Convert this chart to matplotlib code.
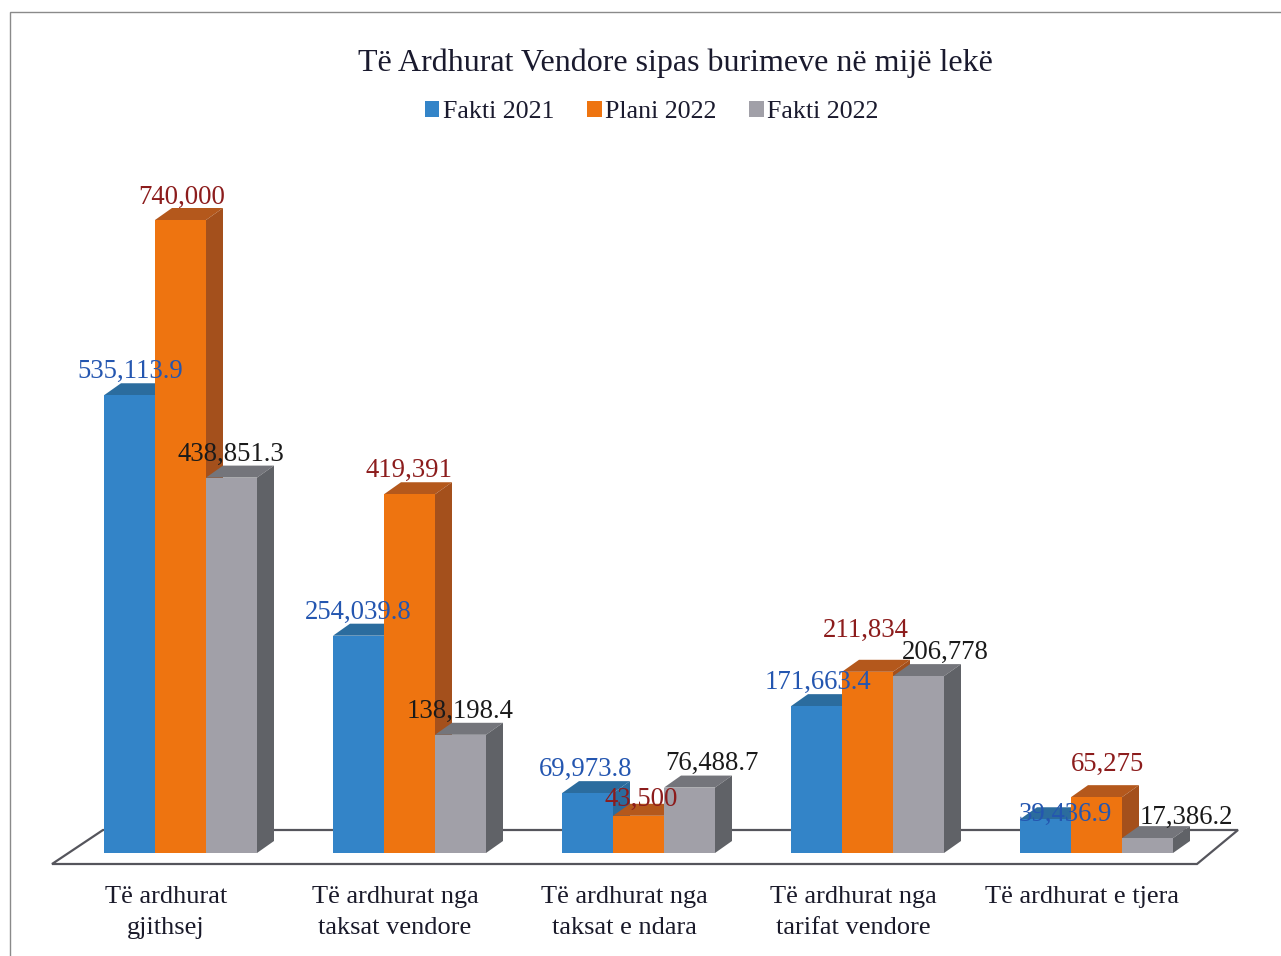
#!/usr/bin/env python3
import numpy as np
import matplotlib.pyplot as plt
from matplotlib.patches import Polygon, Rectangle

plt.rcParams['font.family'] = ['Liberation Serif', 'DejaVu Serif']

categories = [
    "Të ardhurat\ngjithsej",
    "Të ardhurat nga\ntaksat vendore",
    "Të ardhurat nga\ntaksat e ndara",
    "Të ardhurat nga\ntarifat vendore",
    "Të ardhurat e tjera",
]
series_names = ["Fakti 2021", "Plani 2022", "Fakti 2022"]
fakti_2021 = [535113.9, 254039.8, 69973.8, 171663.4, 39436.9]
plani_2022 = [740000, 419391, 43500, 211834, 65275]
fakti_2022 = [438851.3, 138198.4, 76488.7, 206778, 17386.2]
labels_2021 = ["535,113.9", "254,039.8", "69,973.8", "171,663.4", "39,436.9"]
labels_plan = ["740,000", "419,391", "43,500", "211,834", "65,275"]
labels_2022 = ["438,851.3", "138,198.4", "76,488.7", "206,778", "17,386.2"]

# front, top, side, label
styles = [
    ("#3384c8", "#2b6c9e", "#2b6c9e", "#2456b0"),
    ("#ee7410", "#b4581c", "#a4501c", "#8c1c1c"),
    ("#a1a0a8", "#74757b", "#606267", "#1a1a1a"),
]

# label nudges by hand, pixels from the top of each bar
nudge_x = [[1, 0, -2, 1, 20], [1, -1, 3, -2, 11], [-1, 0, 22, 27, 39]]
nudge_y = [[11, 11, 11, 11, -8], [10, 11, 4, 29, 20], [11, 11, 12, 11, 8]]

W, H = 1281, 956
BAR_W = 51
STEP = 229
DEPTH_X, DEPTH_Y = 17, 12

fig = plt.figure(figsize=(W / 100, H / 100), dpi=100)
ax = fig.add_axes([0, (H - 853) / H, 1, (853 - 220) / H])
ax.patch.set_visible(False)
ax.set_xlim(-180.5 / STEP, (W - 180.5) / STEP)
ax.set_ylim(0, 740000)
for s in ax.spines.values():
    s.set_visible(False)
ax.set_yticks([])

px_x = 1 / STEP
px_y = 740000 / (853 - 220)


def fig_xy(x, y):
    return (x / W, 1 - y / H)


# page frame runs off the right and bottom of the scan
fig.add_artist(Rectangle(fig_xy(10, H + 10), (W + 10) / W, (H - 2) / H, transform=fig.transFigure,
                         fill=False, ec="#8a8a8a", lw=1.0, zorder=-2))
fig.add_artist(Polygon([fig_xy(52, 864), fig_xy(1197, 864), fig_xy(1238, 830), fig_xy(103, 830)],
                       closed=True, transform=fig.transFigure, fc="white", ec="#55555c", lw=1.6, zorder=-1))

x = np.arange(len(categories))
width = BAR_W * px_x
dx = DEPTH_X * px_x
dy = DEPTH_Y * px_y

handles = []
all_values = [fakti_2021, plani_2022, fakti_2022]
all_labels = [labels_2021, labels_plan, labels_2022]
for s, values in enumerate(all_values):
    front, top, side, txt = styles[s]
    xs = x + (s - 1) * width
    z = 2 + s
    for xi, v in zip(xs, values):
        l, r = xi - width / 2, xi + width / 2
        ax.fill([l, r, r + dx, l + dx], [v, v, v + dy, v + dy], color=top, lw=0, zorder=z, clip_on=False)
        ax.fill([r, r + dx, r + dx, r], [0, dy, v + dy, v], color=side, lw=0, zorder=z, clip_on=False)
    bars = ax.bar(xs, values, width=width, color=front, zorder=z + 0.5, label=series_names[s])
    handles.append(bars)

# labels sit above all the bars
for s, values in enumerate(all_values):
    xs = x + (s - 1) * width
    for i, v in enumerate(values):
        ax.annotate(all_labels[s][i], (xs[i], v), xytext=(nudge_x[s][i], nudge_y[s][i]),
                    textcoords="offset pixels", ha="center", va="bottom",
                    fontsize=19.3, color=styles[s][3], zorder=10, annotation_clip=False)

ax.set_xticks(x - 14.5 * px_x)
ax.set_xticklabels(categories, fontsize=19, color="#1a1a2a", linespacing=1.5)
ax.tick_params(axis="x", length=0, pad=24)

fig.text(675 / W, 1 - 63 / H, "Të Ardhurat Vendore sipas burimeve në mijë lekë",
         ha="center", va="center", fontsize=23, color="#1a1a2e")
fig.legend(handles=handles, loc="center", bbox_to_anchor=(652 / W, 1 - 112 / H), ncol=3, frameon=False,
           fontsize=18.7, handlelength=0.55, handleheight=0.55, handletextpad=0.15, columnspacing=1.25,
           labelcolor="#1a1a2e")

plt.savefig("out.png", dpi=100)
plt.close()
